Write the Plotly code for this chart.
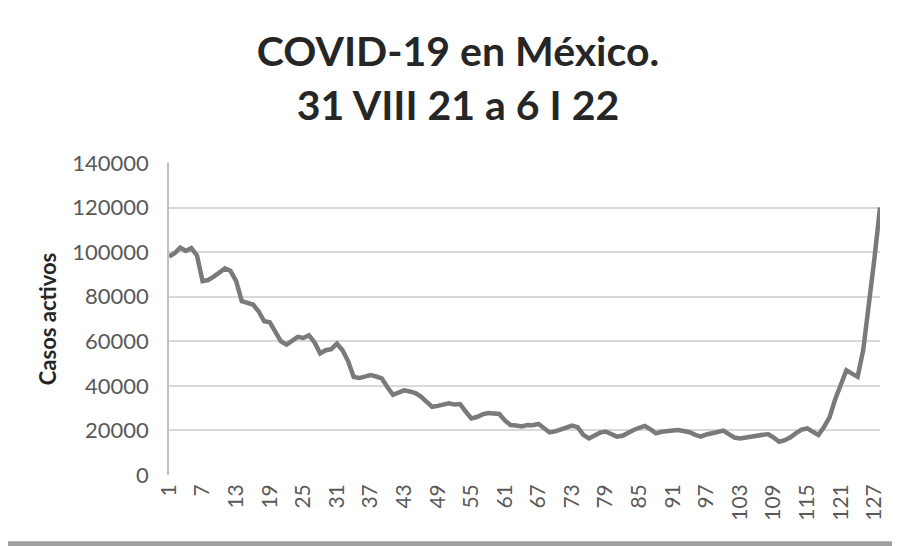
import plotly.graph_objects as go

# day index since 31 VIII 21
days = list(range(1, 129))

# active cases
casos_activos = [
    98000, 99500, 102000, 100500, 101800, 98500, 87000, 87500, 89000, 91000,
    92700, 91500, 87000, 78000, 77500, 76500, 73500, 69000, 68500, 64500,
    60000, 58500, 60000, 62000, 61500, 62700, 59500, 54600, 56000, 56500,
    59000, 56000, 51000, 44000, 43500, 44000, 44800, 44200, 43400, 39500,
    36000, 37000, 38000, 37500, 36800, 35200, 33000, 30600, 31000, 31500,
    32200, 31600, 31800, 28500, 25400, 26000, 27200, 27800, 27600, 27400,
    24500, 22400, 22200, 21800, 22400, 22300, 22900, 21000, 19100, 19600,
    20300, 21300, 22200, 21500, 18000, 16400, 18000, 19000, 19500, 18600,
    17200, 17600, 19000, 20200, 21200, 22000, 20500, 18700, 19400, 19900,
    20000, 20200, 19600, 19200, 18000, 17200, 18200, 19000, 19300, 19900,
    18500, 16800, 16400, 16800, 16900, 17200, 17800, 18400, 16800, 14900,
    15600, 16900, 18800, 20400, 20900, 19200, 17900, 21500, 26000, 34000,
    40000, 47000, 45500, 44100, 56000, 75000, 97000, 120000,
]

x_ticks = list(range(1, 128, 6))
y_ticks = list(range(0, 140001, 20000))

TITLE = "COVID-19 en México.<br>31 VIII 21 a 6 I 22"
GRID = "#d9d9d9"
TICK = "#595959"

fig = go.Figure()
fig.add_scatter(
    x=days, y=casos_activos, mode="lines",
    line=dict(color="#7a7a7a", width=4.5),
    showlegend=False,
)

fig.update_layout(
    width=900, height=546,
    font=dict(family="Lato, sans-serif", color=TICK),
    paper_bgcolor="white", plot_bgcolor="white",
    margin=dict(l=161, r=28, t=155, b=79),
    title=dict(
        text=TITLE, x=0.5, xanchor="center", y=0.893, yanchor="middle",
        font=dict(family="Lato, sans-serif", size=41, color="#262626", weight="bold"),
    ),
    xaxis=dict(
        range=[1, 128], tickvals=x_ticks, ticktext=[str(v) for v in x_ticks],
        tickangle=-90, tickfont=dict(size=21, color=TICK),
        showgrid=False, zeroline=False, showline=False, ticks="",
        ticklabelstandoff=4,
    ),
    yaxis=dict(
        range=[0, 140000], tickvals=y_ticks, ticktext=[str(v) for v in y_ticks],
        tickfont=dict(size=22, color=TICK),
        showgrid=True, gridcolor=GRID, gridwidth=1.5,
        zeroline=False, showline=True, linecolor="#bfbfbf", linewidth=1.5,
        ticks="", ticklabelstandoff=14,
        title=dict(text="<b>Casos activos</b>", font=dict(size=22, color="#262626"),
                   standoff=10),
    ),
)

# scanned frame edge at the bottom
fig.add_shape(type="rect", xref="paper", yref="paper",
              x0=-0.5, x1=1.1, y0=-0.212, y1=-0.228, fillcolor="#a0a0a0",
              line_width=0, layer="above")

fig.write_html("out.html")
